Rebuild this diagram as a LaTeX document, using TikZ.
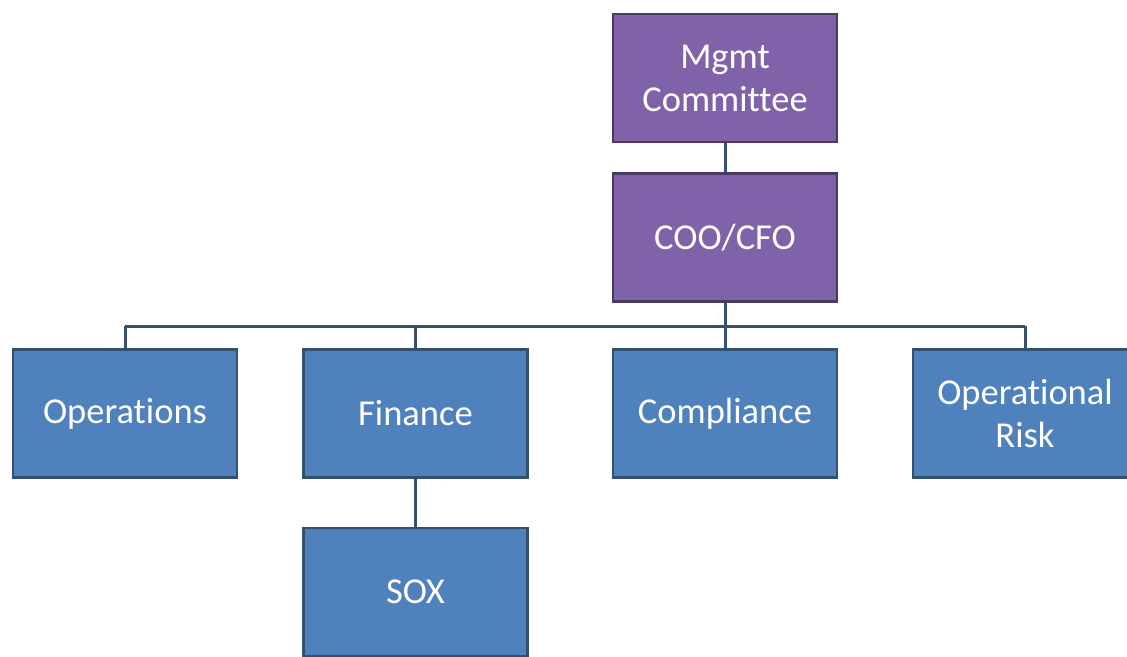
\documentclass[tikz,border=0pt]{standalone}
\usepackage{fontspec}
\setmainfont{Carlito}[Ligatures=NoCommon]
\definecolor{mgmtfill}{HTML}{7F62A8}
\definecolor{mgmtedge}{HTML}{4A3A63}
\definecolor{unitfill}{HTML}{4F81BD}
\definecolor{unitedge}{HTML}{34506F}
\definecolor{linkcol}{HTML}{3A4F6C}
\tikzset{
  box/.style={draw, line width=2.5pt, minimum width=224pt, minimum height=128pt,
    inner sep=0pt, align=center, text=white,
    font=\fontsize{36.5}{43}\selectfont},
  mgmtbox/.style={box, fill=mgmtfill, draw=mgmtedge},
  unitbox/.style={box, fill=unitfill, draw=unitedge},
  link/.style={draw=linkcol, line width=3pt}
}
\begin{document}
\begin{tikzpicture}[x=1pt,y=-1pt]
\useasboundingbox (0,0) rectangle (1127,656);
\clip (0,0) rectangle (1127,656);
\fill[white] (0,0) rectangle (1127,656);
% bus from the COO/CFO box to the four units
\coordinate (busL) at (125,326);
\coordinate (busR) at (1025,326);
\draw[link] (busL) -- (busR);
% boxes
\node[mgmtbox] (mgmt) at (725,78) {Mgmt\\Committee};
\node[mgmtbox] (coo) at (725,237.5) {COO/CFO};
\node[unitbox] (ops) at (125,413.5) {Operations};
\node[unitbox] (fin) at (415.5,413.5) {Finance};
\node[unitbox] (comp) at (725,413.5) {Compliance};
\node[unitbox] (risk) at (1025,413.5) {Operational\\Risk};
\node[unitbox] (sox) at (415.5,592) {SOX};
% connectors
\draw[link] (mgmt.south) -- (coo.north);
\draw[link] (coo.south) -- (comp.north);
\draw[link] (busL) -- (ops.north);
\draw[link] (fin.north |- busL) -- (fin.north);
\draw[link] (busR) -- (risk.north);
\draw[link] (fin.south) -- (sox.north);
\end{tikzpicture}
\end{document}
